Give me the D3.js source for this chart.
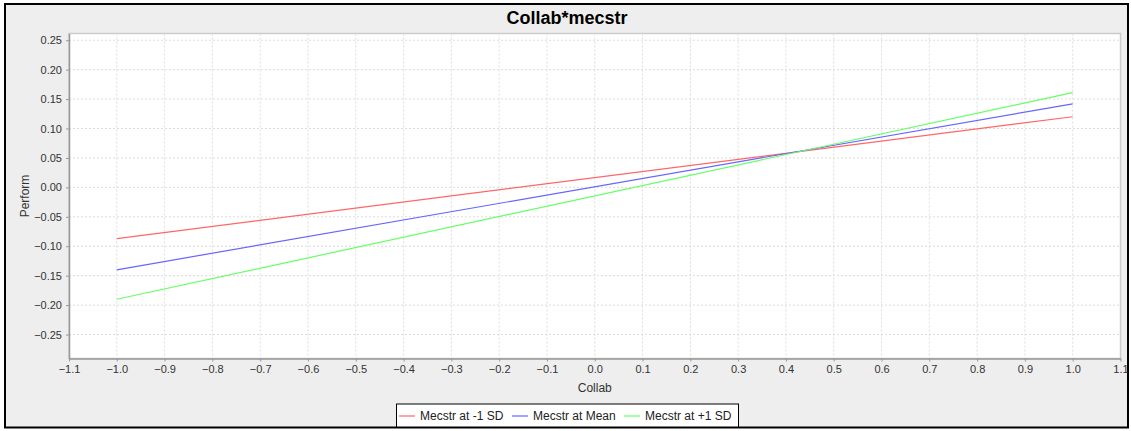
<!DOCTYPE html>
<html>
<head>
<meta charset="utf-8">
<script src="https://cdn.jsdelivr.net/npm/d3@7"></script>
<style>
  body { margin: 0; background: #fff; }
  svg { display: block; font-family: "Liberation Sans", Arial, sans-serif; }
</style>
</head>
<body>
<div id="chart"></div>
<script>
const width = 1131;
const height = 431;

// data
const xEnds = [-1.0, 1.0];
const lowSD = [-0.087, 0.120];
const meanSD = [-0.140, 0.142];
const highSD = [-0.190, 0.161];
const seriesNames = ['Mecstr at -1 SD', 'Mecstr at Mean', 'Mecstr at +1 SD'];
const seriesColors = ['#ff6666', '#6666ff', '#66ff66'];
const xTicks = [-1.1, -1.0, -0.9, -0.8, -0.7, -0.6, -0.5, -0.4, -0.3, -0.2, -0.1,
  0.0, 0.1, 0.2, 0.3, 0.4, 0.5, 0.6, 0.7, 0.8, 0.9, 1.0, 1.1];
const yTicks = [-0.25, -0.20, -0.15, -0.10, -0.05, 0.00, 0.05, 0.10, 0.15, 0.20, 0.25];

const plot = {left: 69, top: 33.5, right: 1120.5, bottom: 358.5};

const svg = d3.select('#chart')
  .append('svg')
  .attr('width', width)
  .attr('height', height);

// chart frame
svg.append('rect')
  .attr('x', 5)
  .attr('y', 4)
  .attr('width', 1123)
  .attr('height', 423.5)
  .style('fill', '#eeeeee')
  .style('stroke', '#000')
  .style('stroke-width', 2);

svg.append('text')
  .attr('x', 567)
  .attr('y', 24)
  .attr('text-anchor', 'middle')
  .style('font-size', '18px')
  .style('font-weight', 'bold')
  .text('Collab*mecstr');

const x = d3.scaleLinear()
  .domain([-1.1, 1.1])
  .range([plot.left, plot.right]);
const y = d3.scaleLinear()
  .domain([-0.2907, 0.2614])
  .range([plot.bottom, plot.top]);

// plot background
svg.append('rect')
  .attr('x', plot.left)
  .attr('y', plot.top)
  .attr('width', plot.right - plot.left)
  .attr('height', plot.bottom - plot.top)
  .style('fill', '#fff')
  .style('stroke', '#cccccc')
  .style('stroke-width', 1.5);

// grid
const grid = svg.append('g');
grid.selectAll('.vg')
  .data(xTicks.slice(1, -1))
  .enter()
  .append('line')
  .attr('x1', d => x(d))
  .attr('x2', d => x(d))
  .attr('y1', plot.top)
  .attr('y2', plot.bottom)
  .style('stroke', '#dcdcdc')
  .style('stroke-dasharray', '2,2');
grid.selectAll('.hg')
  .data(yTicks)
  .enter()
  .append('line')
  .attr('x1', plot.left)
  .attr('x2', plot.right)
  .attr('y1', d => y(d))
  .attr('y2', d => y(d))
  .style('stroke', '#dcdcdc')
  .style('stroke-dasharray', '2,2');

// axes
const xAxis = d3.axisBottom(x)
  .tickValues(xTicks)
  .tickSize(3)
  .tickPadding(4)
  .tickFormat(d3.format('.1f'));
const yAxis = d3.axisLeft(y)
  .tickValues(yTicks)
  .tickSize(3)
  .tickPadding(4)
  .tickFormat(d3.format('.2f'));

const styleAxis = g => {
  g.select('.domain').attr('stroke', '#999').attr('stroke-width', 1.5);
  g.selectAll('.tick line').attr('stroke', '#999');
  g.selectAll('.tick text')
    .attr('fill', '#333')
    .style('font-size', '11px')
    .style('font-family', '"Liberation Sans", Arial, sans-serif');
};

svg.append('g')
  .attr('transform', `translate(0, ${plot.bottom})`)
  .call(xAxis.tickSizeOuter(0))
  .call(styleAxis);
svg.append('g')
  .attr('transform', `translate(${plot.left}, 0)`)
  .call(yAxis.tickSizeOuter(0))
  .call(styleAxis);

svg.append('text')
  .attr('x', (plot.left + plot.right) / 2)
  .attr('y', 392)
  .attr('text-anchor', 'middle')
  .style('font-size', '12px')
  .style('fill', '#333')
  .text('Collab');
svg.append('text')
  .attr('transform', `translate(29, ${(plot.top + plot.bottom) / 2}) rotate(-90)`)
  .attr('text-anchor', 'middle')
  .style('font-size', '12px')
  .style('fill', '#333')
  .text('Perform');

// lines
const series = [lowSD, meanSD, highSD];
const line = d3.line()
  .x((d, i) => x(xEnds[i]))
  .y(d => y(d));
svg.append('g')
  .selectAll('path')
  .data(series)
  .enter()
  .append('path')
  .attr('d', d => line(d))
  .style('fill', 'none')
  .style('stroke', (d, i) => seriesColors[i])
  .style('stroke-width', 1.2);

// legend
const legend = svg.append('g');
legend.append('rect')
  .attr('x', 396.5)
  .attr('y', 404)
  .attr('width', 342)
  .attr('height', 23)
  .style('fill', '#fff')
  .style('stroke', '#000');
const legendX = [399, 512, 624];
const items = legend.selectAll('.item')
  .data(seriesNames)
  .enter()
  .append('g')
  .attr('transform', (d, i) => `translate(${legendX[i]}, 416)`);
items.append('line')
  .attr('x1', 0)
  .attr('x2', 16)
  .style('stroke', (d, i) => seriesColors[i])
  .style('stroke-width', 1.2);
items.append('text')
  .attr('x', 21)
  .attr('dy', '0.35em')
  .style('font-size', '12px')
  .style('fill', '#222')
  .text(d => d);
</script>
</body>
</html>
